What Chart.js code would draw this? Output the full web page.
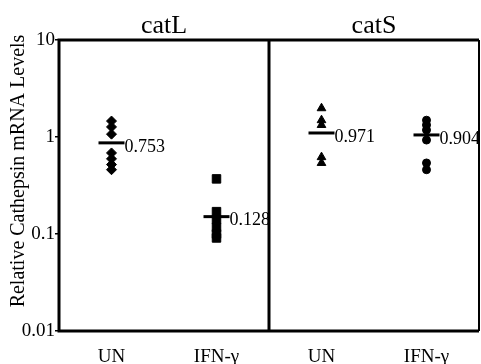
<!DOCTYPE html>
<html>
<head>
<meta charset="utf-8">
<script src="https://cdn.jsdelivr.net/npm/chart.js@4.4.1/dist/chart.umd.min.js"></script>
<style>
  html, body { margin: 0; padding: 0; background: #fff; }
  #wrap { width: 481px; height: 364px; }
</style>
</head>
<body>
<div id="wrap"><canvas id="chart" width="481" height="364"></canvas></div>
<script>
// groups along the x axis, two per panel
var groups = ['UN', 'IFN-\u03b3', 'UN', 'IFN-\u03b3'];
var panels = ['catL', 'catS'];
var yTicks = [10, 1, 0.1, 0.01];
var yTickLabels = ['10', '1', '0.1', '0.01'];

// individual samples
var catL_UN  = [1.46, 1.27, 1.07, 0.685, 0.595, 0.52, 0.46];
var catL_IFN = [0.37, 0.17, 0.141, 0.117, 0.10, 0.091];
var catS_UN  = [1.98, 1.49, 1.33, 0.62, 0.54];
var catS_IFN = [1.49, 1.33, 1.18, 0.93, 0.54, 0.46];

// mean bars and their printed values
var meanLevels = [0.87, 0.151, 1.1, 1.05];
var meanLabels = ['0.753', '0.128', '0.971', '0.904'];

var serif = "'Liberation Serif', 'DejaVu Serif', serif";

function pts(idx, arr) {
	return arr.map(function(v) { return { x: idx, y: v }; });
}

var frame = {
	id: 'frame',
	afterDraw: function(chart) {
		var ctx = chart.ctx;
		var a = chart.chartArea;
		var xs = chart.scales.x;
		ctx.save();
		ctx.strokeStyle = '#000';
		ctx.lineWidth = 3;
		ctx.beginPath();
		ctx.moveTo(a.right, a.top);
		ctx.lineTo(a.left, a.top);
		ctx.lineTo(a.left, a.bottom);
		ctx.lineTo(a.right, a.bottom);
		ctx.stroke();
		ctx.lineWidth = 2;
		ctx.beginPath();
		ctx.moveTo(a.right, a.top);
		ctx.lineTo(a.right, a.bottom);
		ctx.stroke();
		// divider between the two panels
		var mid = xs.getPixelForValue(1.5);
		ctx.lineWidth = 3;
		ctx.beginPath();
		ctx.moveTo(mid, a.top);
		ctx.lineTo(mid, a.bottom);
		ctx.stroke();

		ctx.fillStyle = '#000';
		// panel titles
		ctx.font = '26px ' + serif;
		ctx.textAlign = 'center';
		ctx.textBaseline = 'alphabetic';
		ctx.fillText(panels[0], (a.left + mid) / 2, 33);
		ctx.fillText(panels[1], (mid + a.right) / 2, 33);

		// y title
		ctx.save();
		ctx.translate(19, 171);
		ctx.rotate(-Math.PI / 2);
		ctx.font = '20px ' + serif;
		ctx.textBaseline = 'middle';
		ctx.fillText('Relative Cathepsin mRNA Levels', 0, 0);
		ctx.restore();

		// mean values
		var meta = chart.getDatasetMeta(4);
		ctx.font = '18px ' + serif;
		ctx.textAlign = 'left';
		ctx.textBaseline = 'middle';
		meta.data.forEach(function(el, i) {
			ctx.fillText(meanLabels[i], el.x + 13, el.y + 4);
		});
		ctx.restore();
	}
};

var ctx = document.getElementById('chart').getContext('2d');
var chart = new Chart(ctx, {
	type: 'scatter',
	data: {
		datasets: [
			{ data: pts(0, catL_UN), pointStyle: 'rectRot', radius: 5 },
			{ data: pts(1, catL_IFN), pointStyle: 'rect', radius: 6 },
			{ data: pts(2, catS_UN), pointStyle: 'triangle', radius: 5 },
			{ data: pts(3, catS_IFN), pointStyle: 'circle', radius: 4 },
			{ data: meanLevels.map(function(v, i) { return { x: i, y: v }; }),
			  pointStyle: 'line', radius: 13, borderWidth: 3 }
		].map(function(d) {
			d.backgroundColor = '#000';
			d.borderColor = '#000';
			d.pointHoverRadius = d.radius;
			return d;
		})
	},
	options: {
		responsive: false,
		animation: false,
		events: [],
		layout: { autoPadding: false, padding: { top: 40, right: 2, left: 0, bottom: 0 } },
		plugins: { legend: { display: false }, tooltip: { enabled: false } },
		scales: {
			x: {
				type: 'linear',
				min: -0.5,
				max: 3.5,
				afterBuildTicks: function(s) { s.ticks = [0, 1, 2, 3].map(function(v) { return { value: v }; }); },
				afterFit: function(s) { s.height = 33; s.paddingLeft = 0; s.paddingRight = 0; },
				grid: { display: false, drawTicks: false },
				border: { display: false },
				ticks: {
					padding: 15,
					color: '#000',
					font: { family: serif, size: 19 },
					callback: function(v) { return groups[v]; }
				}
			},
			y: {
				type: 'logarithmic',
				min: 0.01,
				max: 10,
				afterBuildTicks: function(s) { s.ticks = yTicks.map(function(v) { return { value: v }; }); },
				afterFit: function(s) { s.width = 59; s.paddingTop = 0; s.paddingBottom = 0; },
				grid: { drawOnChartArea: false, drawTicks: true, tickLength: 4, color: '#000', lineWidth: 1.5 },
				border: { display: false },
				ticks: {
					padding: 0,
					color: '#000',
					font: { family: serif, size: 19 },
					callback: function(v) {
						var i = yTicks.indexOf(v);
						return i >= 0 ? yTickLabels[i] : '';
					}
				}
			}
		}
	},
	plugins: [frame]
});
</script>
</body>
</html>
